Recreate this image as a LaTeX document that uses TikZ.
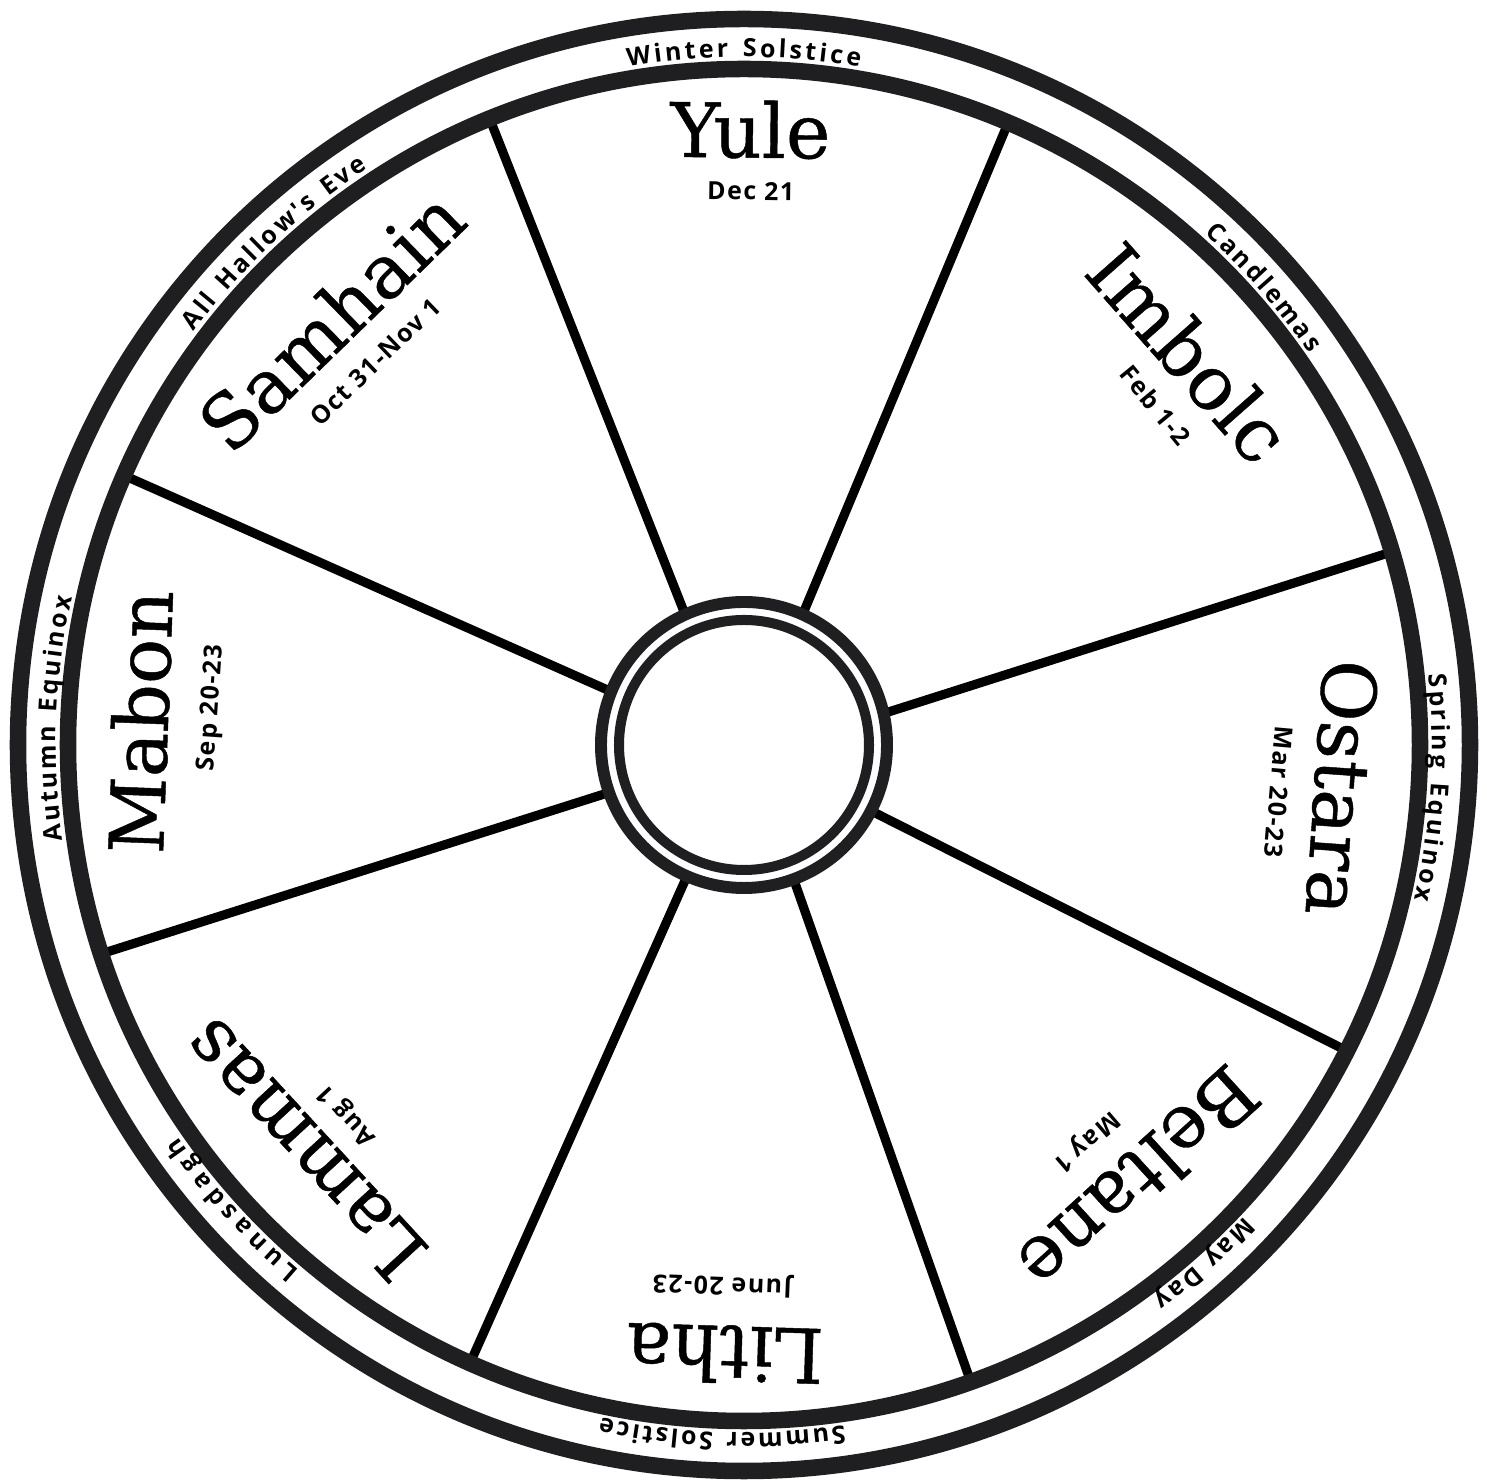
\documentclass[tikz,border=0pt]{standalone}
\usepackage{fontspec}
\usepackage{tikz}
\usetikzlibrary{decorations.text}
\newfontfamily\slabfont[FakeBold=0.6]{DejaVu Serif}
\newfontfamily\tagfont[LetterSpace=6]{Open Sans Bold}
\newcommand{\bandfont}{\tagfont\fontsize{7.1}{8}\selectfont}
\definecolor{wheelInk}{HTML}{1F1F22}

\begin{document}
\begin{tikzpicture}[
    ring/.style={draw=wheelInk, line width=4.7pt},
    spoke/.style={draw=black, line width=2.6pt, line cap=round},
    sabbat/.style={font=\slabfont\fontsize{21.4}{24}\selectfont, inner sep=0pt, text depth=0pt},
    sabbatdate/.style={font=\bandfont, inner sep=0pt, text depth=0pt}]
  \useasboundingbox (-7.44,-7.37) rectangle (7.43,7.45);
  \foreach \a/\b in {114.3/112.1, 65.8/67.0, 12.7/16.6, -27.4/-26.9,
      -69.7/-70.4, 246.5/246.1, 199.4/198.0, 158.1/156.5} {
    \draw[spoke] (\a:1.43) -- (\b:6.76);
  }
  \draw[ring] (0,0) circle[radius=7.26];
  \draw[ring] (0,0) circle[radius=6.76];
  \draw[draw=wheelInk, line width=3.4pt] (0,0) circle[radius=1.43];
  \draw[draw=wheelInk, line width=2.85pt] (0,0) circle[radius=1.25];
  \foreach \ang/\rad/\txt [count=\i] in
    {89.4/6.16/Yule, 41.4/5.94/Imbolc, -4.1/6.00/Ostara, -47.7/5.88/Beltane,
     -91.8/6.10/Litha, 222.6/5.99/Lammas, 177.8/6.05/Mabon, 134.2/5.93/Samhain} {
    \node[sabbat, rotate=\ang-90] (sabbat\i) at (\ang:\rad) {\txt};
  }
  \foreach \ang/\rad/\txt [count=\i] in
    {89.3/5.54/Dec 21, 39.5/5.34/Feb 1-2, -5.0/5.37/Mar 20-23, -49.2/5.26/May 1,
     -92.3/5.42/June 20-23, 223/5.45/Aug 1, 176/5.36/Sep 20-23, 133.9/5.32/Oct 31-Nov 1} {
    \node[sabbatdate, rotate=\ang-90] (date\i) at (\ang:\rad) {\txt};
  }
  \foreach \s/\e/\txt in
    {99.7/80.3/Winter Solstice, 48.0/34.7/Candlemas, 5.9/-13.0/Spring Equinox,
     -43.3/-53.5/May Day, -81.6/-102.0/Summer Solstice, 229.8/214.7/Lunasdagh,
     188.0/167.6/Autumn Equinox, 143.1/123.1/All Hallow's Eve} {
    \path[decorate, decoration={text along path, text align=fit to path,
        text/.expanded={|\noexpand\bandfont|\txt}}]
      (\s:6.88) arc[start angle=\s, end angle=\e, radius=6.88];
  }
\end{tikzpicture}
\end{document}
